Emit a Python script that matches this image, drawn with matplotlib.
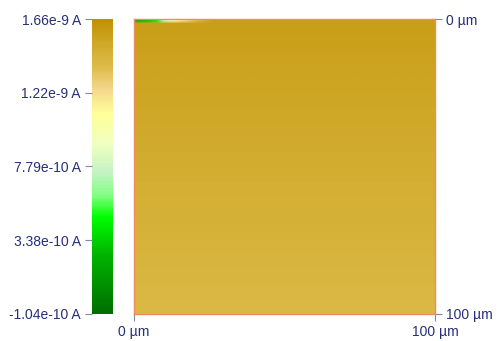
import numpy as np
import matplotlib
matplotlib.use("Agg")
import matplotlib.pyplot as plt
from matplotlib.colors import LinearSegmentedColormap

# current scale (A)
vmin, vmax = -1.04e-10, 1.66e-9
cbar_ticks = [1.66e-9, 1.22e-9, 7.79e-10, 3.38e-10, -1.04e-10]
cbar_labels = ["1.66e-9 A", "1.22e-9 A", "7.79e-10 A", "3.38e-10 A", "-1.04e-10 A"]

# mean current per band of rows, top to bottom
row_current = [1.57e-9, 1.56e-9, 1.55e-9, 1.54e-9, 1.535e-9, 1.525e-9, 1.515e-9,
               1.505e-9, 1.495e-9, 1.485e-9, 1.475e-9, 1.465e-9, 1.455e-9, 1.45e-9,
               1.44e-9, 1.43e-9, 1.42e-9, 1.415e-9, 1.405e-9, 1.395e-9]
# low-current streak at start of first scan line
streak = [2.2e-10, 2.4e-10, 2.6e-10, 2.8e-10, 3.0e-10, 3.3e-10, 3.8e-10,
          4.5e-10, 5.5e-10, 7.0e-10, 8.5e-10, 9.5e-10, 1.02e-9, 1.08e-9,
          1.12e-9, 1.16e-9, 1.20e-9, 1.24e-9, 1.28e-9, 1.32e-9, 1.36e-9,
          1.40e-9, 1.44e-9, 1.48e-9, 1.52e-9, 1.55e-9, 1.57e-9]

ncol = 100
img = np.repeat(np.array(row_current)[:, None], 5, axis=0)
img = np.repeat(img, ncol, axis=1)
img[0, :len(streak)] = streak

cmap = LinearSegmentedColormap.from_list("afm", [
    (0.00, "#006e00"), (0.20, "#00b400"), (0.33, "#00ff00"),
    (0.40, "#80ff80"), (0.48, "#c4f2c4"), (0.58, "#f0ffc0"),
    (0.68, "#ffff99"), (0.76, "#f4d88c"), (0.84, "#dcbb48"),
    (0.92, "#cfa828"), (1.00, "#c09000")])

txt = "#26307a"
tick_c = "#8088a8"

fig = plt.figure(figsize=(4.97, 3.41), dpi=100)
ax = fig.add_axes([0.2696, 0.0792, 0.6056, 0.865])
cax = fig.add_axes([0.1851, 0.0792, 0.0423, 0.865])

im = ax.imshow(img, cmap=cmap, vmin=vmin, vmax=vmax, extent=[0, 100, 100, 0],
               aspect="auto", interpolation="bilinear")
ax.set_xlim(0, 100)
ax.set_ylim(100, 0)
for s in ax.spines.values():
    s.set_color("#f08a60")
    s.set_linewidth(1.0)
ax.set_xticks([0, 100])
ax.set_xticklabels(["0 µm", "100 µm"])
ax.yaxis.tick_right()
ax.set_yticks([0, 100])
ax.set_yticklabels(["0 µm", "100 µm"])
ax.tick_params(colors=tick_c, labelcolor=txt, length=5, width=0.8,
               labelsize=10, pad=3)
for t in ax.get_xticklabels() + ax.get_yticklabels():
    t.set_family("Liberation Sans")

cb = fig.colorbar(im, cax=cax, ticks=cbar_ticks)
cb.outline.set_visible(False)
cax.yaxis.set_ticks_position("left")
cax.set_yticklabels(cbar_labels)
cax.tick_params(colors=tick_c, labelcolor=txt, length=5, width=0.8,
                labelsize=10, pad=3)
for t in cax.get_yticklabels():
    t.set_family("Liberation Sans")

fig.savefig("out.png", dpi=100)
